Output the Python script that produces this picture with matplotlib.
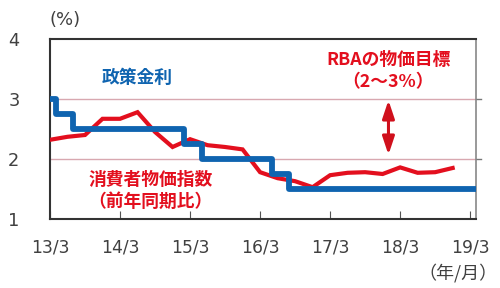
import matplotlib
matplotlib.use("Agg")
import matplotlib.pyplot as plt

plt.rcParams["font.family"] = ["Noto Sans CJK JP", "DejaVu Sans"]

# months counted from 2013/3
cpi_month = [0, 3, 6, 9, 12, 15, 18, 21, 24, 27, 30, 33,
             36, 39, 42, 45, 48, 51, 54, 57, 60, 63, 66, 69]
cpi_value = [2.32, 2.37, 2.40, 2.67, 2.67, 2.78, 2.45, 2.20, 2.33, 2.23, 2.20, 2.16,
             1.78, 1.68, 1.63, 1.53, 1.73, 1.77, 1.78, 1.75, 1.86, 1.77, 1.78, 1.85]

rate_month = [0, 1, 4, 23, 26, 38, 41, 73]
rate_value = [3.0, 2.75, 2.5, 2.25, 2.0, 1.75, 1.5, 1.5]

xtick_pos = [0, 12, 24, 36, 48, 60, 72]
xtick_lab = ["13/3", "14/3", "15/3", "16/3", "17/3", "18/3", "19/3"]

target_low, target_high = 2, 3

RED = "#e30f1e"
BLUE = "#0f64b0"

fig = plt.figure(figsize=(5, 2.88), dpi=100)
ax = fig.add_axes([0.1, 0.2396, 0.852, 0.625])

for y in (target_low, target_high):
    ax.axhline(y, color="#d8a8b0", lw=1, zorder=1)

ax.plot(cpi_month, cpi_value, color=RED, lw=3, zorder=3, solid_joinstyle="miter")
ax.step(rate_month, rate_value, where="post", color=BLUE, lw=4.2, zorder=4)

ax.set_xlim(0, 73)
ax.set_ylim(1, 4)
ax.set_xticks(xtick_pos, xtick_lab)
ax.set_yticks([1, 2, 3, 4])
ax.tick_params(axis="x", direction="in", length=6, color="#555555",
               labelsize=12.3, pad=14, labelcolor="#404040")
ax.tick_params(axis="y", length=0, labelsize=12.8, pad=22, labelcolor="#404040")
for lab in ax.get_xticklabels() + ax.get_yticklabels():
    lab.set_family(["DejaVu Sans"])

for s in ("left", "bottom", "top"):
    ax.spines[s].set_color("#333333")
    ax.spines[s].set_linewidth(1.5)
ax.spines["right"].set_color("#888888")
ax.spines["right"].set_linewidth(1.2)

# small ticks on right side at target band
for y in (target_low, target_high):
    ax.plot([1.0, 1.012], [y, y], transform=ax.get_yaxis_transform(),
            color="#777777", lw=1, clip_on=False)

# target arrow
ax.annotate("", xy=(58, 2.98), xytext=(58, 2.07),
            arrowprops=dict(arrowstyle="<|-|>,head_length=0.9,head_width=0.3",
                            color="#d0101c", lw=2.2,
                            mutation_scale=12, shrinkA=0, shrinkB=0), zorder=5)

ax.text(15, 3.35, "政策金利", color=BLUE, fontsize=12.8, fontweight="bold",
        ha="center", va="center")
ax.text(58, 3.65, "RBAの物価目標", color=RED, fontsize=12.8, fontweight="bold",
        ha="center", va="center")
ax.text(58, 3.28, "（2～3%）", color=RED, fontsize=12.8, fontweight="bold",
        ha="center", va="center")
ax.text(17.2, 1.65, "消費者物価指数", color=RED, fontsize=12.8, fontweight="bold",
        ha="center", va="center")
ax.text(17.2, 1.28, "（前年同期比）", color=RED, fontsize=12.8, fontweight="bold",
        ha="center", va="center")

fig.text(0.13, 0.932, "(%)", fontsize=13, color="#404040", ha="center", va="center",
         family=["DejaVu Sans"])
fig.text(0.916, 0.052, "（年/月）", fontsize=13, color="#404040", ha="center", va="center")

fig.savefig("out.png", dpi=100)
